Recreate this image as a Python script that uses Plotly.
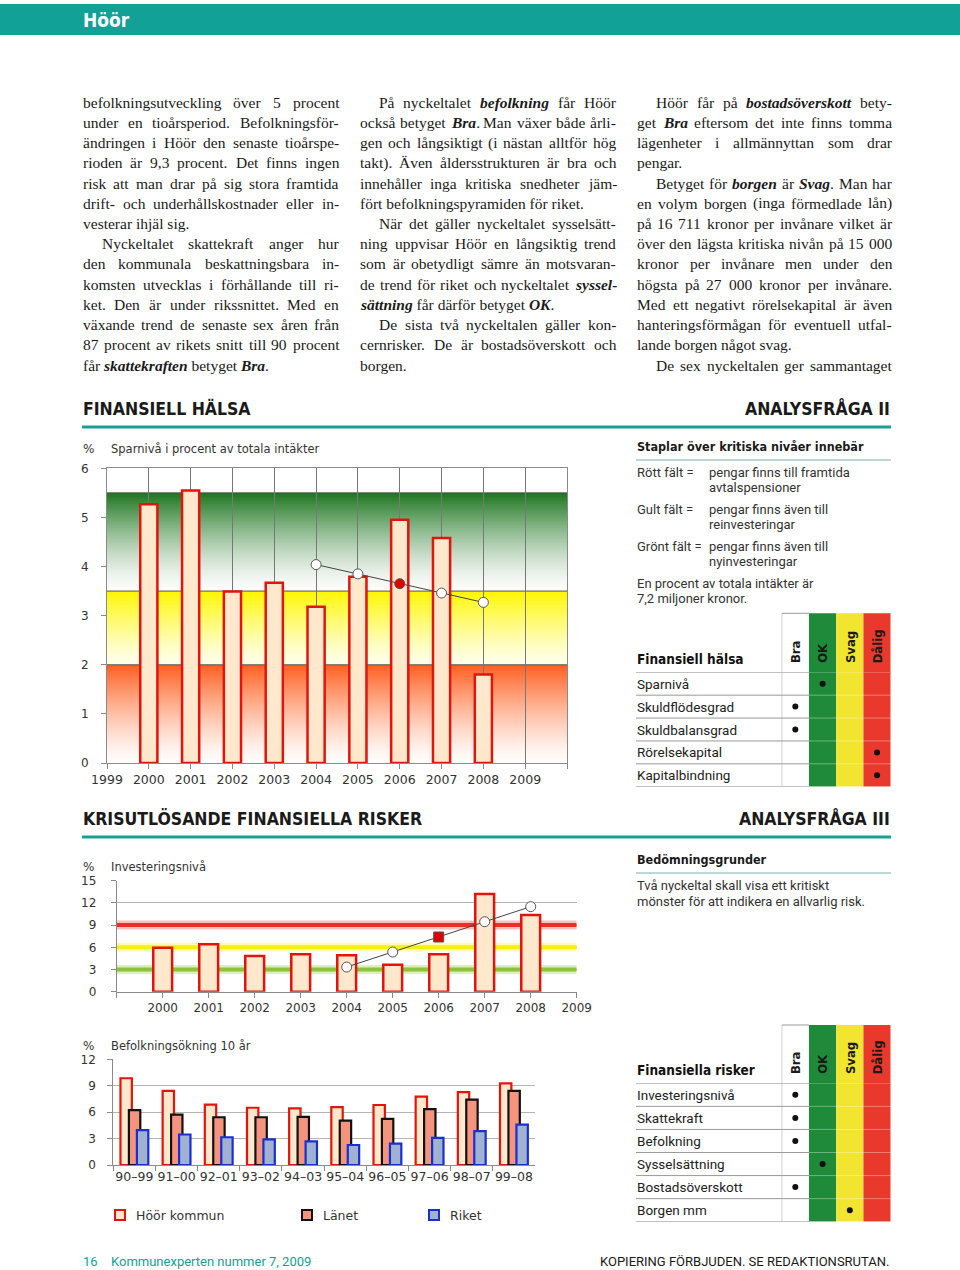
import re
import plotly.graph_objects as go

W, H = 960, 1270


def px(x):
    return x / W


def py(y):
    return 1 - y / H


# ---------------- data ----------------
spar_years = [2000, 2001, 2002, 2003, 2004, 2005, 2006, 2007, 2008]
spar_values = [5.27, 5.55, 3.49, 3.67, 3.18, 3.79, 4.95, 4.58, 1.80]
spar_trend_years = [2004, 2005, 2006, 2007, 2008]
spar_trend = [4.04, 3.85, 3.65, 3.46, 3.27]
spar_levels = [2.0, 3.5, 5.5]          # red / yellow / green limits
spar_ticks = list(range(1999, 2011))

inv_years = [2000, 2001, 2002, 2003, 2004, 2005, 2006, 2007, 2008]
inv_values = [5.95, 6.40, 4.82, 5.05, 4.91, 3.65, 5.05, 13.2, 10.36]
inv_trend_years = [2004, 2005, 2006, 2007, 2008]
inv_trend = [3.33, 5.36, 7.39, 9.46, 11.49]
inv_levels = [3, 6, 9]                 # green / yellow / red limits
inv_ticks = list(range(1999, 2010))

bef_periods = ["90–99", "91–00", "92–01", "93–02", "94–03",
               "95–04", "96–05", "97–06", "98–07", "99–08"]
bef_hoor = [9.85, 8.42, 6.85, 6.50, 6.42, 6.58, 6.81, 7.77, 8.27, 9.27]
bef_lanet = [6.23, 5.73, 5.42, 5.42, 5.46, 5.04, 5.23, 6.35, 7.42, 8.42]
bef_riket = [3.96, 3.46, 3.15, 2.92, 2.69, 2.27, 2.42, 3.08, 3.85, 4.58]
bef_names = ["Höör kommun", "Länet", "Riket"]

grades = ["Bra", "OK", "Svag", "Dålig"]
health_rows = ["Sparnivå", "Skuldflödesgrad", "Skuldbalansgrad",
               "Rörelsekapital", "Kapitalbindning"]
health_grades = ["OK", "Bra", "Bra", "Dålig", "Dålig"]
risk_rows = ["Investeringsnivå", "Skattekraft", "Befolkning",
             "Sysselsättning", "Bostadsöverskott", "Borgen mm"]
risk_grades = ["Bra", "Bra", "Bra", "OK", "Bra", "Svag"]

# (indent, justified, text)
col1 = [
    (0, 1, "befolkningsutveckling över 5 procent"),
    (0, 1, "under en tioårsperiod. Befolkningsför-"),
    (0, 1, "ändringen i Höör den senaste tioårspe-"),
    (0, 1, "rioden är 9,3 procent. Det finns ingen"),
    (0, 1, "risk att man drar på sig stora framtida"),
    (0, 1, "drift- och underhållskostnader eller in-"),
    (0, 0, "vesterar ihjäl sig."),
    (1, 1, "Nyckeltalet skattekraft anger hur"),
    (0, 1, "den kommunala beskattningsbara in-"),
    (0, 1, "komsten utvecklas i förhållande till ri-"),
    (0, 1, "ket. Den är under rikssnittet. Med en"),
    (0, 1, "växande trend de senaste sex åren från"),
    (0, 1, "87 procent av rikets snitt till 90 procent"),
    (0, 0, "får <b><i>skattekraften</i></b> betyget <b><i>Bra</i></b>."),
]
col2 = [
    (1, 1, "På nyckeltalet <b><i>befolkning</i></b> får Höör"),
    (0, 1, "också betyget <b><i>Bra</i></b>. Man växer både årli-"),
    (0, 1, "gen och långsiktigt (i nästan alltför hög"),
    (0, 1, "takt). Även åldersstrukturen är bra och"),
    (0, 1, "innehåller inga kritiska snedheter jäm-"),
    (0, 0, "fört befolkningspyramiden för riket."),
    (1, 1, "När det gäller nyckeltalet sysselsätt-"),
    (0, 1, "ning uppvisar Höör en långsiktig trend"),
    (0, 1, "som är obetydligt sämre än motsvaran-"),
    (0, 1, "de trend för riket och nyckeltalet <b><i>syssel-</i></b>"),
    (0, 0, "<b><i>sättning</i></b> får därför betyget <b><i>OK</i></b>."),
    (1, 1, "De sista två nyckeltalen gäller kon-"),
    (0, 1, "cernrisker. De är bostadsöverskott och"),
    (0, 0, "borgen."),
]
col3 = [
    (1, 1, "Höör får på <b><i>bostadsöverskott</i></b> bety-"),
    (0, 1, "get <b><i>Bra</i></b> eftersom det inte finns tomma"),
    (0, 1, "lägenheter i allmännyttan som drar"),
    (0, 0, "pengar."),
    (1, 1, "Betyget för <b><i>borgen</i></b> är <b><i>Svag</i></b>. Man har"),
    (0, 1, "en volym borgen (inga förmedlade lån)"),
    (0, 1, "på 16 711 kronor per invånare vilket är"),
    (0, 1, "över den lägsta kritiska nivån på 15 000"),
    (0, 1, "kronor per invånare men under den"),
    (0, 1, "högsta på 27 000 kronor per invånare."),
    (0, 1, "Med ett negativt rörelsekapital är även"),
    (0, 1, "hanteringsförmågan för eventuell utfal-"),
    (0, 0, "lande borgen något svag."),
    (1, 1, "De sex nyckeltalen ger sammantaget"),
]

# ---------------- styles ----------------
SERIF = "Liberation Serif, Times New Roman, serif"
CHART = "DejaVu Sans, Verdana, sans-serif"
DIN = "Roboto, Noto Sans, sans-serif"
COND = "DejaVu Sans Condensed, Roboto, sans-serif"
TEAL = "#12A196"
BAR_FILL = "#FFE8CC"
BAR_RED = "#E3140C"
LAN_FILL = "#F4937E"
RIK_FILL = "#9FB2D2"
RIK_LINE = "#1A2FD0"
GRADE_COLORS = ["#FFFFFF", "#1F8B3A", "#F2E530", "#E8392C"]
AX = "#8a8a8a"
BODY_SIZE = 15.5

# Times-compatible advance widths (1/1000 em) for justification
RO = {" ": 250, ".": 250, ",": 250, "-": 333, "(": 333, ")": 333, ":": 278}
RO.update({d: 500 for d in "0123456789"})
RO.update(dict(zip("abcdefghijklmnopqrstuvwxyz",
                   [444, 500, 444, 500, 444, 333, 500, 500, 278, 278, 500, 278, 778,
                    500, 500, 500, 500, 333, 389, 278, 500, 500, 722, 500, 500, 444])))
RO.update(dict(zip("ABCDEFGHIJKLMNOPQRSTUVWXYZ",
                   [722, 667, 667, 722, 611, 556, 722, 722, 333, 389, 722, 611, 889,
                    722, 722, 556, 722, 667, 556, 611, 722, 722, 944, 722, 722, 611])))
RO.update({"ä": 444, "å": 444, "ö": 500, "é": 444, "Ä": 722, "Å": 722, "Ö": 722})
BI = dict(RO)
BI.update({"h": 556, "n": 556, "r": 389, "u": 556, "v": 444, "w": 667, "y": 444,
           "z": 389, "a": 500, "K": 667, "B": 667, "S": 556, "O": 722, "ä": 500,
           "å": 500, "ö": 500})


def html_width(s, size):
    total, bi = 0, False
    for tok in re.split(r"(<[^>]+>)", s):
        if tok in ("<b>", "<i>"):
            bi = True
            continue
        if tok in ("</b>", "</i>"):
            bi = False
            continue
        for ch in tok:
            total += (BI if bi else RO).get(ch, 500)
    return total * size / 1000


fig = go.Figure()
shapes = []
anns = []


def ann(x, y, text, size=13, color="#222", family=DIN, xanchor="left",
        yanchor="middle", **kw):
    anns.append(dict(x=px(x), y=py(y), xref="paper", yref="paper", text=text,
                     showarrow=False, xanchor=xanchor, yanchor=yanchor, borderpad=0,
                     font=dict(size=size, color=color, family=family), **kw))


def hline(x0, x1, y, color, width):
    shapes.append(dict(type="line", xref="paper", yref="paper",
                       x0=px(x0), x1=px(x1), y0=py(y), y1=py(y),
                       line=dict(color=color, width=width)))


def mix(c1, c2, t):
    return "rgb(%d,%d,%d)" % tuple(round(a + (b - a) * t) for a, b in zip(c1, c2))


# ---------------- page furniture ----------------
shapes.append(dict(type="rect", xref="paper", yref="paper", x0=0, x1=1,
                   y0=py(35), y1=py(4), fillcolor=TEAL, line=dict(width=0)))
ann(82, 20, "<b>Höör</b>", size=19, color="white", family=COND)

for cx, cw, lines in ((82, 256, col1), (359, 256, col2), (636, 255, col3)):
    for i, (ind, just, t) in enumerate(lines):
        x0 = cx + 19 * ind
        y = 102 + 20.25 * i
        words = t.split(" ")
        if not just or len(words) < 2:
            ann(x0, y, t, size=BODY_SIZE, color="#1a1a1a", family=SERIF)
            continue
        widths = [html_width(w, BODY_SIZE) for w in words]
        gap = (cx + cw - x0 - sum(widths)) / (len(words) - 1)
        xx = x0
        for w, ww in zip(words, widths):
            ann(xx, y, w, size=BODY_SIZE, color="#1a1a1a", family=SERIF)
            xx += ww + gap

for y, left, right in ((408, "FINANSIELL HÄLSA", "ANALYSFRÅGA II"),
                       (818, "KRISUTLÖSANDE FINANSIELLA RISKER", "ANALYSFRÅGA III")):
    ann(82, y, "<b>%s</b>" % left, size=17.5, color="#1a1a1a", family=COND)
    ann(891, y, "<b>%s</b>" % right, size=17.5, color="#1a1a1a", family=COND,
        xanchor="right")
    hline(82, 891, y + 19, "#1B9E93", 3)

ann(82, 1261, "16", size=13, color=TEAL)
ann(110, 1261, "Kommunexperten nummer 7, 2009", size=13, color=TEAL)
ann(891, 1261, "KOPIERING FÖRBJUDEN. SE REDAKTIONSRUTAN.", size=13,
    color="#1a1a1a", xanchor="right")

# ---------------- right-hand info boxes ----------------
ann(636, 447, "<b>Staplar över kritiska nivåer innebär</b>", size=12.5,
    color="#1a1a1a", family=COND)
hline(636, 891, 460, "#BCD6D3", 2)
info = [(472, "Rött fält =", "pengar finns till framtida"),
        (488, "", "avtalspensioner"),
        (509, "Gult fält =", "pengar finns även till"),
        (525, "", "reinvesteringar"),
        (546, "Grönt fält =", "pengar finns även till"),
        (562, "", "nyinvesteringar")]
for y, a, b in info:
    if a:
        ann(636, y, a, size=13, color="#333")
    ann(708, y, b, size=13, color="#333")
ann(636, 583, "En procent av totala intäkter är", size=13, color="#333")
ann(636, 599, "7,2 miljoner kronor.", size=13, color="#333")

ann(636, 859, "<b>Bedömningsgrunder</b>", size=12.5, color="#1a1a1a", family=COND)
hline(636, 891, 873, "#BCD6D3", 2)
ann(636, 885, "Två nyckeltal skall visa ett kritiskt", size=13, color="#333")
ann(636, 901, "mönster för att indikera en allvarlig risk.", size=13, color="#333")

# ---------------- chart 1: Sparnivå ----------------
ann(82, 449, "%", size=12, color="#333", family=CHART)
ann(110, 449, "Sparnivå i procent av totala intäkter", size=11.5,
    color="#333", family=CHART)

bands = [
    (0.0, spar_levels[0], (255, 253, 251), (255, 95, 32), 1.35),
    (spar_levels[0], spar_levels[1], (255, 255, 236), (255, 246, 0), 1.25),
    (spar_levels[1], spar_levels[2], (252, 252, 252), (28, 118, 30), 1.45),
]
N = 45
for lo, hi, c_lo, c_hi, g in bands:
    step = (hi - lo) / N
    for k in range(N):
        t = ((k + 0.5) / N) ** g
        y0 = lo + k * step
        y1 = min(hi, y0 + step * 1.4)
        shapes.append(dict(type="rect", xref="x", yref="y", x0=1999, x1=2010,
                           y0=y0, y1=y1, fillcolor=mix(c_lo, c_hi, t),
                           line=dict(width=0), layer="below"))
for lv in spar_levels:
    shapes.append(dict(type="line", xref="x", yref="y", x0=1999, x1=2010,
                       y0=lv, y1=lv, line=dict(color="#555", width=1),
                       layer="below"))

fig.add_trace(go.Bar(x=spar_years, y=spar_values, width=0.41,
                     marker=dict(color=BAR_FILL, line=dict(color=BAR_RED, width=2.5)),
                     xaxis="x", yaxis="y", showlegend=False))
fig.add_trace(go.Scatter(
    x=spar_trend_years, y=spar_trend, mode="lines+markers",
    line=dict(color="#444", width=1),
    marker=dict(size=10, symbol="circle",
                color=["#E00000" if yr == 2006 else "white" for yr in spar_trend_years],
                line=dict(color="#555", width=1)),
    xaxis="x", yaxis="y", showlegend=False))

# ---------------- chart 2: Investeringsnivå ----------------
ann(82, 867, "%", size=12, color="#333", family=CHART)
ann(110, 867, "Investeringsnivå", size=11.5, color="#333", family=CHART)
level_cols = [(140, 195, 60), (245, 240, 20), (232, 48, 40)]
for lv, c in zip(inv_levels, level_cols):
    shapes.append(dict(type="line", xref="x2", yref="y2", x0=1999, x1=2009,
                       y0=lv, y1=lv, layer="between",
                       line=dict(color="rgba(%d,%d,%d,0.30)" % c, width=9)))
    shapes.append(dict(type="line", xref="x2", yref="y2", x0=1999, x1=2009,
                       y0=lv, y1=lv, layer="between",
                       line=dict(color="rgb(%d,%d,%d)" % c, width=4)))

fig.add_trace(go.Bar(x=inv_years, y=inv_values, width=0.41,
                     marker=dict(color=BAR_FILL, line=dict(color=BAR_RED, width=2.5)),
                     xaxis="x2", yaxis="y2", showlegend=False))
fig.add_trace(go.Scatter(
    x=inv_trend_years, y=inv_trend, mode="lines+markers",
    line=dict(color="#444", width=1),
    marker=dict(size=10,
                symbol=["square" if yr == 2006 else "circle" for yr in inv_trend_years],
                color=["#E00000" if yr == 2006 else "white" for yr in inv_trend_years],
                line=dict(color="#555", width=1)),
    xaxis="x2", yaxis="y2", showlegend=False))

# ---------------- chart 3: Befolkningsökning ----------------
ann(82, 1046, "%", size=12, color="#333", family=CHART)
ann(110, 1046, "Befolkningsökning 10 år", size=11.5, color="#333", family=CHART)
series3 = [(bef_hoor, BAR_FILL, BAR_RED, -0.33),
           (bef_lanet, LAN_FILL, "#111111", -0.13),
           (bef_riket, RIK_FILL, RIK_LINE, 0.06)]
for (vals, fill, edge, off), name in zip(series3, bef_names):
    fig.add_trace(go.Bar(x=bef_periods, y=vals, width=0.27, offset=off, name=name,
                         marker=dict(color=fill, line=dict(color=edge, width=2.2)),
                         xaxis="x3", yaxis="y3", showlegend=False))
for (vals, fill, edge, off), name, lx in zip(series3, bef_names, (115, 302, 429)):
    shapes.append(dict(type="rect", xref="paper", yref="paper",
                       x0=px(lx), x1=px(lx + 10), y0=py(1220), y1=py(1210),
                       fillcolor=fill, line=dict(color=edge, width=2)))
    ann(lx + 20, 1215, name, size=12.5, color="#333", family=CHART)


# ---------------- grade tables ----------------
def grade_table(rows, row_grades, title, top, head_bottom, xa, ya):
    bottom_ref = len(rows) - 0.5
    for i in range(1, 4):
        shapes.append(dict(type="rect", xref=xa, yref=ya, x0=i - 0.5, x1=i + 0.5,
                           y0=bottom_ref, y1=-0.5, fillcolor=GRADE_COLORS[i],
                           line=dict(width=0), layer="below"))
        shapes.append(dict(type="rect", xref=xa, yref="paper", x0=i - 0.5, x1=i + 0.5,
                           y0=py(head_bottom) - 0.001, y1=py(top),
                           fillcolor=GRADE_COLORS[i], line=dict(width=0), layer="below"))
    shapes.append(dict(type="line", xref=xa, yref="paper", x0=-0.5, x1=-0.5,
                       y0=py(head_bottom), y1=py(top), line=dict(color="#999", width=1)))
    shapes.append(dict(type="line", xref=xa, yref=ya, x0=-0.5, x1=-0.5,
                       y0=-0.5, y1=bottom_ref, line=dict(color="#999", width=1)))
    shapes.append(dict(type="line", xref=xa, yref="paper", x0=-0.5, x1=0.5,
                       y0=py(top), y1=py(top), line=dict(color="#999", width=1)))
    for j in range(len(rows) + 1):
        yy = j - 0.5
        shapes.append(dict(type="line", xref="paper", yref=ya, x0=px(636), x1=px(809),
                           y0=yy, y1=yy, line=dict(color="#9a9a9a", width=1)))
        shapes.append(dict(type="line", xref="paper", yref=ya, x0=px(809), x1=px(890.7),
                           y0=yy, y1=yy, line=dict(color="rgba(255,255,255,0.35)", width=1)))
    for j, r in enumerate(rows):
        anns.append(dict(x=px(636), y=j, xref="paper", yref=ya, text=r,
                         showarrow=False, xanchor="left", yanchor="middle", borderpad=0,
                         font=dict(size=13.5, color="#222", family=DIN)))
    anns.append(dict(x=px(636), y=py(head_bottom - 13), xref="paper", yref="paper",
                     text="<b>%s</b>" % title, showarrow=False, xanchor="left",
                     yanchor="middle", borderpad=0,
                     font=dict(size=13.5, color="#111", family=COND)))
    for i, g in enumerate(grades):
        anns.append(dict(x=i, y=py(head_bottom - 8), xref=xa, yref="paper",
                         text="<b>%s</b>" % g, showarrow=False, textangle=-90,
                         xanchor="center", yanchor="bottom", borderpad=0,
                         font=dict(size=13, color="#1a1a1a", family=COND)))
    fig.add_trace(go.Scatter(x=[grades.index(g) for g in row_grades],
                             y=list(range(len(rows))), mode="markers",
                             marker=dict(size=6, color="#111"),
                             xaxis=xa, yaxis=ya, showlegend=False))


grade_table(health_rows, health_grades, "Finansiell hälsa", 613.3, 672.3, "x4", "y4")
grade_table(risk_rows, risk_grades, "Finansiella risker", 1025, 1083.3, "x5", "y5")

# ---------------- axes ----------------
tick_font = dict(size=12, color="#333", family=CHART)
common = dict(showline=True, linecolor=AX, linewidth=1, ticks="outside",
              ticklen=5, tickcolor=AX, zeroline=False, fixedrange=True,
              tickfont=tick_font, automargin=False)
xfont = dict(size=12.5, color="#333", family=CHART)
hidden = dict(visible=False, fixedrange=True, automargin=False)

fig.update_layout(
    template="none",
    width=W, height=H, margin=dict(l=0, r=0, t=0, b=0, pad=0, autoexpand=False),
    paper_bgcolor="white", plot_bgcolor="rgba(0,0,0,0)",
    barmode="overlay", showlegend=False,
    xaxis=dict(domain=[px(107), px(567)], anchor="y", range=[1999, 2010],
               tickvals=spar_ticks,
               ticktext=[str(t) if t < 2010 else "" for t in spar_ticks],
               showgrid=True, gridcolor="#777", gridwidth=1, mirror=True,
               tickangle=0, **{**common, "tickfont": xfont}),
    yaxis=dict(domain=[py(763), py(468.3)], anchor="x", range=[0, 6],
               tickvals=[0, 1, 2, 3, 4, 5, 6], showgrid=False, mirror=True,
               ticklabelstandoff=10, **common),
    xaxis2=dict(domain=[px(116.7), px(576.7)], anchor="y2", range=[1999, 2009],
                tickvals=inv_ticks,
                ticktext=["" if t == 1999 else str(t) for t in inv_ticks],
                showgrid=False, tickangle=0, **common),
    yaxis2=dict(domain=[py(991.7), py(880.7)], anchor="x2", range=[0, 15],
                tickvals=[0, 3, 6, 9, 12, 15], showgrid=True, gridcolor="#b5b5b5",
                ticklabelstandoff=12, **common),
    xaxis3=dict(domain=[px(113.3), px(535)], anchor="y3", type="category",
                categoryorder="array", categoryarray=bef_periods,
                range=[-0.5, 9.5], tickson="boundaries", showgrid=False,
                tickangle=0, **{**common, "tickfont": xfont}),
    yaxis3=dict(domain=[py(1165), py(1059.3)], anchor="x3", range=[0, 12],
                tickvals=[0, 3, 6, 9, 12], showgrid=True, gridcolor="#b5b5b5",
                ticklabelstandoff=9, **common),
    xaxis4=dict(domain=[px(781.7), px(890.7)], anchor="y4", range=[-0.5, 3.5], **hidden),
    yaxis4=dict(domain=[py(786.7), py(672.3)], anchor="x4", range=[4.5, -0.5], **hidden),
    xaxis5=dict(domain=[px(781.7), px(890.7)], anchor="y5", range=[-0.5, 3.5], **hidden),
    yaxis5=dict(domain=[py(1221.7), py(1083.3)], anchor="x5", range=[5.5, -0.5], **hidden),
    shapes=shapes, annotations=anns,
)

fig.write_html(
    "out.html",
    config={"displayModeBar": False, "staticPlot": True},
    post_script="document.body.style.margin='0';"
                "document.documentElement.style.overflow='hidden';",
)
